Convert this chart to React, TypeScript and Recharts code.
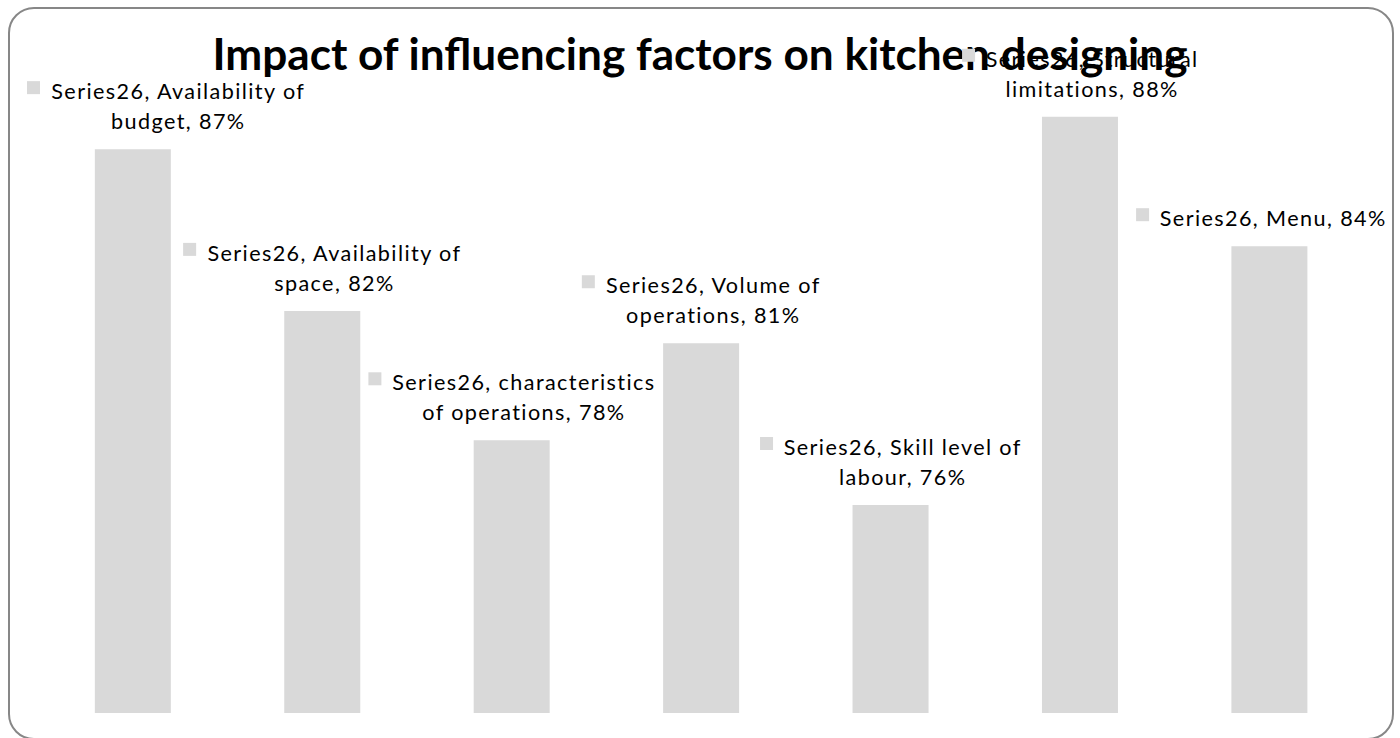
import React from 'react';
import { BarChart, Bar, XAxis, YAxis, LabelList, Customized } from 'recharts';

const chartTitle = 'Impact of influencing factors on kitchen designing';
const seriesName = 'Series26';
const categories = [
  'Availability of budget',
  'Availability of space',
  'characteristics of operations',
  'Volume of operations',
  'Skill level of labour',
  'Structural limitations',
  'Menu',
];
const values = [87, 82, 78, 81, 76, 88, 84];

const data = categories.map((c, i) => ({ category: c, value: values[i] }));

const BAR_COLOR = '#D9D9D9';
const LABEL_FONT_FAMILY = 'Lato';
const LABEL_FONT_SIZE = 21.6;
const LETTER_SPACING = 1.4;
const LINE_H = 30;
const KEY = 13;
const KEY_GAP = 10;
const WRAP_W = 276;
const MIN_X = 27;
const MAX_X = 1386;

let ctx: CanvasRenderingContext2D | null = null;
function measure(t: string): number {
  if (!ctx) ctx = document.createElement('canvas').getContext('2d');
  const base = ctx ? (() => { ctx!.font = `${LABEL_FONT_SIZE}px ${LABEL_FONT_FAMILY}`; return ctx!.measureText(t).width; })() : t.length * 9;
  return base + t.length * LETTER_SPACING;
}

function wrap(text: string, maxW: number): string[] {
  const words = text.split(' ');
  const lines: string[] = [];
  let cur = '';
  for (const w of words) {
    const next = cur ? cur + ' ' + w : w;
    if (cur && measure(next) > maxW) {
      lines.push(cur);
      cur = w;
    } else {
      cur = next;
    }
  }
  if (cur) lines.push(cur);
  return lines;
}

const renderLabel = (props: any) => {
  const vb = props.viewBox || {};
  const x = props.x ?? vb.x;
  const y = props.y ?? vb.y;
  const width = props.width ?? vb.width;
  const index = props.index;
  const cx = x + width / 2;
  const lines = wrap(`${seriesName}, ${categories[index]}, ${values[index]}%`, WRAP_W);
  const maxW = Math.max(...lines.map(measure));
  const blockW = KEY + KEY_GAP + maxW;
  let left = cx - blockW / 2;
  left = Math.max(MIN_X, Math.min(MAX_X - blockW, left));
  const textCenter = left + KEY + KEY_GAP + maxW / 2 + LETTER_SPACING / 2;
  const lastBaseline = y - 20;
  const firstBaseline = lastBaseline - (lines.length - 1) * LINE_H;
  return (
    <g>
      <rect x={left} y={firstBaseline - 18} width={KEY} height={KEY} fill={BAR_COLOR} />
      {lines.map((l, i) => (
        <text
          key={i}
          x={textCenter}
          y={firstBaseline + i * LINE_H}
          textAnchor="middle"
          fontFamily={LABEL_FONT_FAMILY}
          fontSize={LABEL_FONT_SIZE}
          letterSpacing={LETTER_SPACING}
          fill="#000"
        >
          {l}
        </text>
      ))}
    </g>
  );
};

const Title = () => (
  <text
    x={700}
    y={70}
    textAnchor="middle"
    fontFamily="Lato"
    fontWeight="bold"
    fontSize={43}
    fill="#000"
    textLength={975}
    lengthAdjust="spacingAndGlyphs"
  >
    {chartTitle}
  </text>
);

export default function App() {
  return (
    <div style={{ position: 'absolute', left: 0, top: 0, width: 1400, height: 738, background: '#fff', overflow: 'hidden' }}>
      <div
        style={{
          position: 'absolute',
          left: 8,
          top: 7,
          width: 1386,
          height: 733,
          border: '2px solid #878787',
          borderRadius: 26,
          boxSizing: 'border-box',
        }}
      />
      <div style={{ position: 'absolute', left: 0, top: 0 }}>
        <BarChart
          width={1400}
          height={738}
          data={data}
          margin={{ top: 66, right: 36, bottom: 25, left: 38 }}
          barCategoryGap="30%"
        >
          <XAxis dataKey="category" hide />
          <YAxis hide domain={[69.57, 89.57]} />
          <Bar dataKey="value" fill={BAR_COLOR} isAnimationActive={false}>
            <LabelList dataKey="value" content={renderLabel} />
          </Bar>
          <Customized component={Title} />
        </BarChart>
      </div>
    </div>
  );
}
